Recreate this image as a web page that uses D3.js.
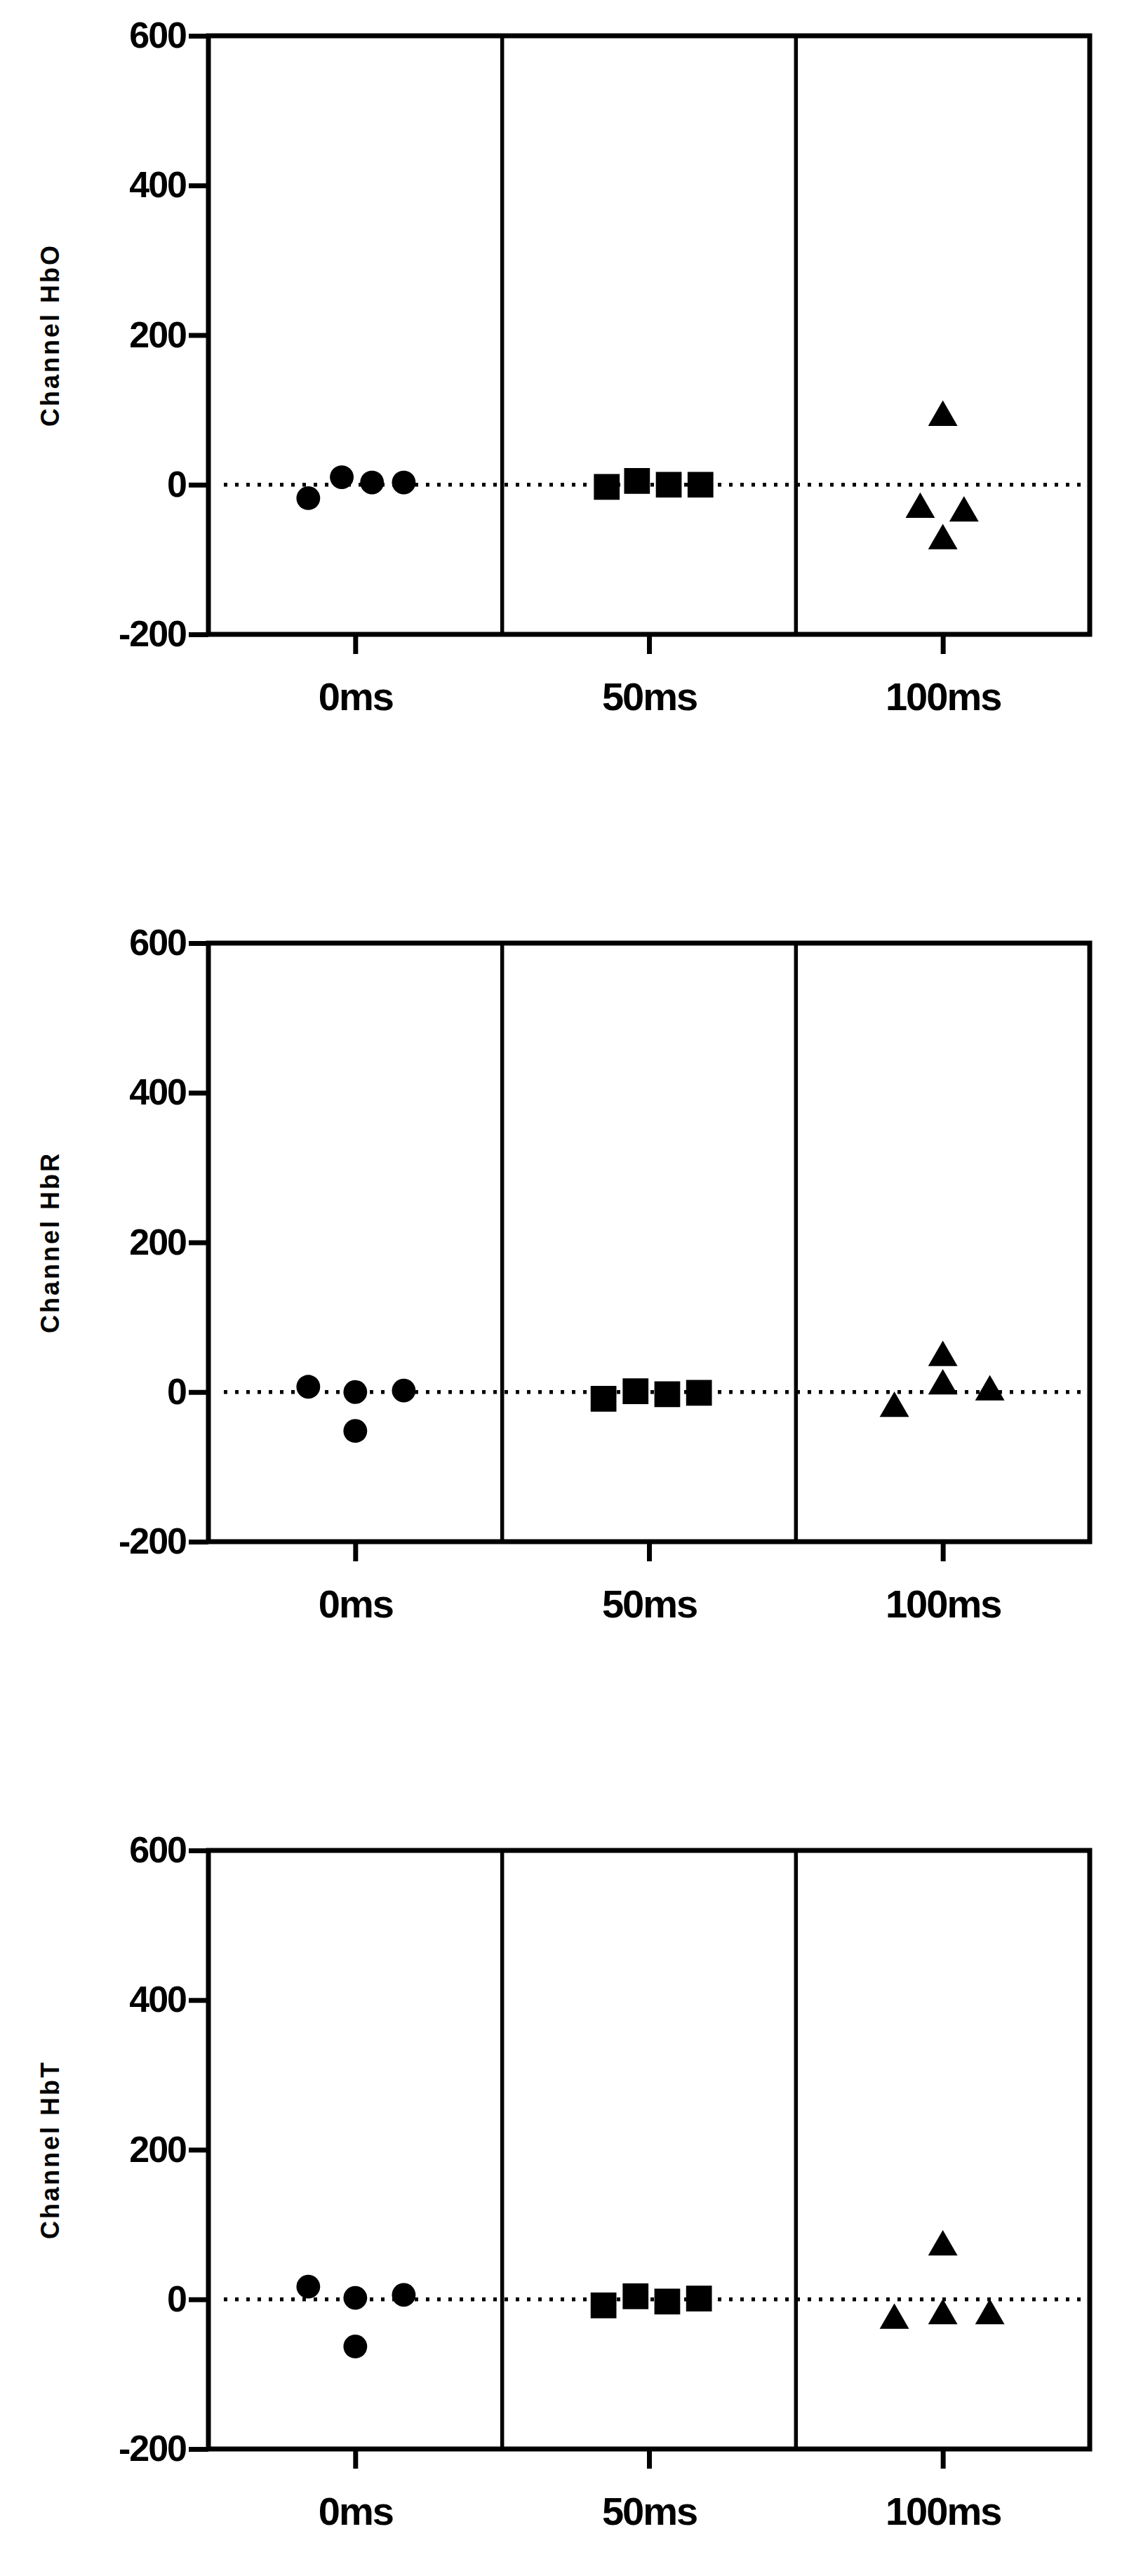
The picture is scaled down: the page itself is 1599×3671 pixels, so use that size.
<!DOCTYPE html>
<html><head><meta charset="utf-8">
<script src="https://cdn.jsdelivr.net/npm/d3@7/dist/d3.min.js"></script>
<style>body{margin:0;background:#fff}</style></head>
<body><svg id="c" width="1599" height="3671"></svg>
<script>
const categories = ["0ms","50ms","100ms"];
const yTicks = [-200,0,200,400,600];
const panelTitles = ["Channel HbO","Channel HbR","Channel HbT"];
// [category index, jitter offset, value]
const hboPoints = [[0,-0.16,-18],[0,-0.046,10],[0,0.057,3],[0,0.165,3],
  [1,-0.144,-3],[1,-0.041,5],[1,0.067,0],[1,0.175,0],
  [2,0,90],[2,-0.077,-33],[2,0,-75],[2,0.072,-38]];
const hbrPoints = [[0,-0.16,7],[0,0,0],[0,0,-52],[0,0.165,2],
  [1,-0.155,-9],[1,-0.046,1],[1,0.062,-3],[1,0.17,-1],
  [2,-0.165,-22],[2,0,46],[2,0,8],[2,0.16,0]];
const hbtPoints = [[0,-0.16,17],[0,0,2],[0,0,-63],[0,0.165,6],
  [1,-0.155,-8],[1,-0.046,4],[1,0.062,-3],[1,0.17,1],
  [2,-0.165,-28],[2,0,70],[2,0,-22],[2,0.16,-22]];
const panels = [hboPoints,hbrPoints,hbtPoints];
const shapes = [d3.symbolCircle,d3.symbolSquare,d3.symbolTriangle];
const sizes = [900,1350,760];

const svg = d3.select("#c");
const left=297,right=1553,ph=853,tops=[51,1344,2637];
const x = d3.scaleLinear().domain([-0.5,2.5]).range([left,right]);
const fam = "'Liberation Sans Narrow','Arial Narrow','Liberation Sans',Arial,sans-serif";
panels.forEach((pts,i)=>{
  const g = svg.append("g").attr("transform",`translate(0,${tops[i]})`);
  const y = d3.scaleLinear().domain([-200,600]).range([ph,0]);
  [0.5,1.5].forEach(d=>g.append("line").attr("x1",x(d)).attr("x2",x(d)).attr("y1",0).attr("y2",ph)
    .attr("stroke","#000").attr("stroke-width",5.5));
  g.append("line").attr("x1",left+22).attr("x2",right-10).attr("y1",y(0)).attr("y2",y(0))
    .attr("stroke","#000").attr("stroke-width",5.5).attr("stroke-dasharray","5 11");
  g.append("rect").attr("x",left).attr("y",0).attr("width",right-left).attr("height",ph)
    .attr("fill","none").attr("stroke","#000").attr("stroke-width",7);
  const ya = g.append("g").attr("transform",`translate(${left},0)`)
    .call(d3.axisLeft(y).tickValues(yTicks).tickFormat(d=>String(d)).tickSize(28).tickPadding(4));
  ya.select(".domain").remove();
  ya.selectAll("line").attr("stroke-width",7);
  ya.selectAll("text").attr("font-family",fam).attr("font-weight","bold").attr("font-size",52)
    .attr("fill","#000").attr("letter-spacing",-2);
  const xa = g.append("g").attr("transform",`translate(0,${ph})`)
    .call(d3.axisBottom(x).tickValues([0,1,2]).tickFormat(d=>categories[d]).tickSize(28).tickPadding(40));
  xa.select(".domain").remove();
  xa.selectAll("line").attr("stroke-width",7);
  xa.selectAll("text").attr("font-family",fam).attr("font-weight","bold").attr("font-size",56)
    .attr("fill","#000").attr("letter-spacing",-2);
  g.append("text").attr("transform",`translate(84,${ph/2}) rotate(-90)`).attr("text-anchor","middle")
    .attr("font-family","'Liberation Sans',Arial,sans-serif").attr("font-weight","bold").attr("font-size",36)
    .attr("letter-spacing",3).text(panelTitles[i]);
  g.selectAll("path.pt").data(pts).join("path").attr("class","pt")
    .attr("transform",d=>`translate(${x(d[0]+d[1])},${y(d[2])})`)
    .attr("d",d=>d3.symbol().type(shapes[d[0]]).size(sizes[d[0]])())
    .attr("fill","#000");
});
</script></body></html>
